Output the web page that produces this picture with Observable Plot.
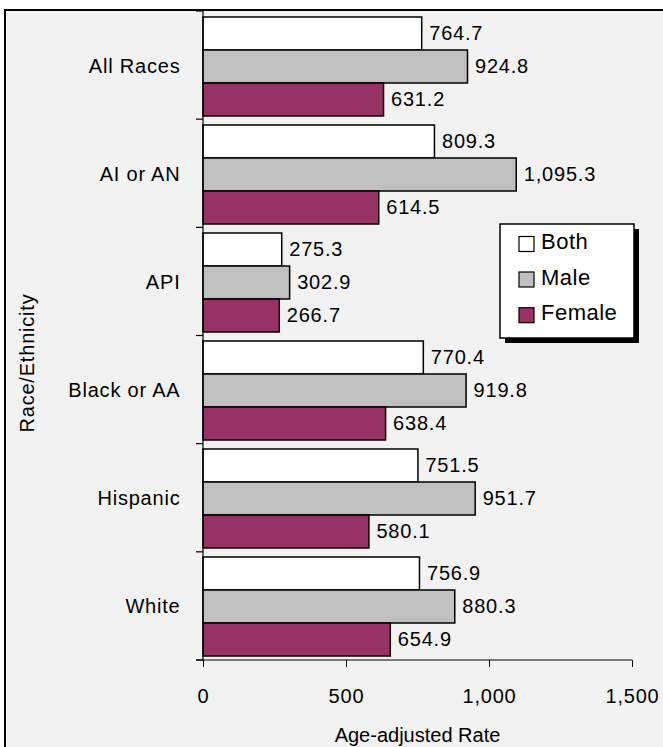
<!DOCTYPE html>
<html><head><meta charset="utf-8">
<script src="https://cdn.jsdelivr.net/npm/d3@7"></script>
<script src="https://cdn.jsdelivr.net/npm/@observablehq/plot@0.6"></script>
<style>
body{margin:0;background:#fff;}
#wrap{position:absolute;left:4px;top:9px;border-top:2px solid #000;border-left:2px solid #000;background:#f2f2f2;width:657px;height:736px;overflow:hidden}
#wrap svg text{letter-spacing:0.8px}
</style></head><body><div id="wrap"></div>
<script>
const categories = ["All Races", "AI or AN", "API", "Black or AA", "Hispanic", "White"];
const series = ["Both", "Male", "Female"];
const bothValues = [764.7, 809.3, 275.3, 770.4, 751.5, 756.9];
const maleValues = [924.8, 1095.3, 302.9, 919.8, 951.7, 880.3];
const femaleValues = [631.2, 614.5, 266.7, 638.4, 580.1, 654.9];
const seriesColors = ["#ffffff", "#c0c0c0", "#993366"];
const xTicks = [0, 500, 1000, 1500];
const xTitle = "Age-adjusted Rate";
const yTitle = "Race/Ethnicity";

const valuesBySeries = [bothValues, maleValues, femaleValues];
const data = [];
categories.forEach((c, i) => series.forEach((s, j) => data.push({category: c, series: s, value: valuesBySeries[j][i]})));
const fmt = d3.format(",.1f");

const W = 657, H = 736, ML = 197, MR = 31, MT = 0, MB = 87;

const chart = Plot.plot({
  width: W,
  height: H,
  marginLeft: ML,
  marginRight: MR,
  marginTop: MT,
  marginBottom: MB,
  style: {background: "#f2f2f2", fontFamily: "'Liberation Sans', Arial, sans-serif", fontSize: "20px", color: "#000", overflow: "visible"},
  facet: {data, y: "category"},
  fy: {domain: categories, padding: 0, axis: "left", label: null, tickSize: 0, tickPadding: 23},
  y: {domain: series, paddingInner: 0, paddingOuter: 0.11, axis: null},
  x: {domain: [0, 1500], ticks: xTicks, tickFormat: d3.format(","), tickSize: 7, tickPadding: 21, label: null},
  color: {domain: series, range: seriesColors},
  marks: [
    Plot.barX(data, {x: "value", y: "series", fill: "series", stroke: "#000", strokeWidth: 1.5}),
    Plot.text(data, {x: "value", y: "series", text: d => fmt(d.value), dx: 7, textAnchor: "start", fill: "#000"})
  ]
});
document.getElementById("wrap").appendChild(chart);

// extra decorations placed with the chart's own scales
const xs = chart.scale("x");
const fys = chart.scale("fy");
const xf = xs.apply ? (v => xs.apply(v)) : d3.scaleLinear(xs.domain, xs.range);
const fyBand = d3.scaleBand(fys.domain, fys.range || [MT, H - MB]).paddingInner(0).paddingOuter(0);
const svg = d3.select(chart);
const g = svg.append("g");
const bottom = H - MB;
const x0 = xf(0);
const lines = g.append("g").attr("stroke", "#000").attr("stroke-width", 1.2);
lines.append("line").attr("x1", x0).attr("x2", x0).attr("y1", MT).attr("y2", bottom);
lines.append("line").attr("x1", x0 - 7).attr("x2", xf(xTicks[xTicks.length - 1])).attr("y1", bottom).attr("y2", bottom);
const bounds = categories.map(c => fyBand(c)).concat([fyBand(categories[categories.length - 1]) + fyBand.bandwidth()]);
for (const b of bounds) lines.append("line").attr("x1", x0 - 7).attr("x2", x0).attr("y1", b).attr("y2", b);

// axis titles
g.append("text").attr("x", (xf(xTicks[0]) + xf(xTicks[xTicks.length - 1])) / 2).attr("y", 724)
  .attr("text-anchor", "middle").attr("dominant-baseline", "central").attr("fill", "#000")
  .style("letter-spacing", "0px").text(xTitle);
g.append("text").attr("transform", "translate(21,352) rotate(-90)")
  .attr("text-anchor", "middle").attr("dominant-baseline", "central").attr("fill", "#000").text(yTitle);

// legend
const lg = g.append("g");
lg.append("rect").attr("x", 499).attr("y", 218).attr("width", 134).attr("height", 114).attr("fill", "#000");
lg.append("rect").attr("x", 494).attr("y", 213).attr("width", 134).attr("height", 114)
  .attr("fill", "#fff").attr("stroke", "#000").attr("stroke-width", 1.5);
const centers = [230.5, 266, 301.7];
series.forEach((s, i) => {
  lg.append("rect").attr("x", 513).attr("y", centers[i] + 2.5 - 7.5).attr("width", 15).attr("height", 15)
    .attr("fill", seriesColors[i]).attr("stroke", "#000").attr("stroke-width", 1.2);
  lg.append("text").attr("x", 535).attr("y", centers[i]).attr("text-anchor", "start").attr("dominant-baseline", "central")
    .attr("fill", "#000").style("font-size", "22px").style("letter-spacing", "0.5px").text(s);
});
</script></body></html>
